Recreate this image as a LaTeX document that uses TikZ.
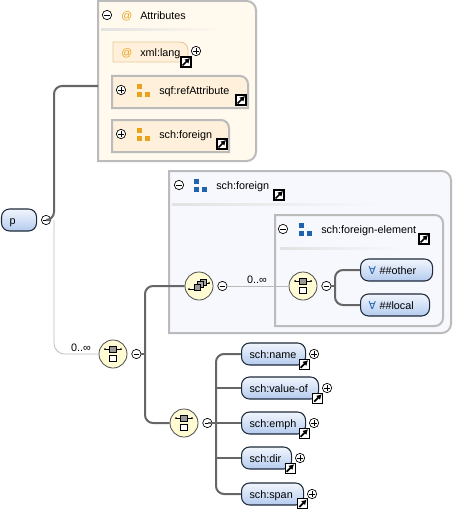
\documentclass[tikz,border=0pt]{standalone}
\usepackage{fontspec}
\setmainfont{Liberation Sans}
\newfontfamily\symfont{DejaVu Sans}
\usetikzlibrary{positioning, arrows.meta}
\definecolor{groupline}{HTML}{BBBBBB}
\definecolor{attrback}{HTML}{FFF9EE}
\definecolor{typeback}{HTML}{F7F8FE}
\definecolor{attrfill}{HTML}{FEF0DA}
\definecolor{attrline}{HTML}{E6C99A}
\definecolor{attrorange}{HTML}{E9A21C}
\definecolor{typeblue}{HTML}{1F63AE}
\definecolor{elemtop}{HTML}{F2F6FD}
\definecolor{elembottom}{HTML}{B4CBEE}
\definecolor{elemline}{HTML}{1E2A3A}
\definecolor{compfill}{HTML}{FFFBD2}
\definecolor{linkdark}{HTML}{666666}
\definecolor{faderule}{HTML}{E2E2E2}
\tikzset{
  smalltext/.style={font=\fontsize{8.1}{10}\selectfont, text height=6pt, text depth=0pt},
  elem/.style={
    rectangle, rounded corners=6pt, draw=elemline, line width=.8pt,
    top color=elemtop, bottom color=elembottom, anchor=west, smalltext,
    text width=#1, align=left, minimum height=16.5pt, inner xsep=6pt,
    inner ysep=0pt
  },
  caption/.style={smalltext, anchor=west, inner sep=0pt},
  toggle/.style={
    circle, draw=black, fill=white, line width=.5pt, minimum size=7pt,
    inner sep=0pt
  },
  minusmark/.style={toggle, path picture={
    \draw[line width=.5pt] ([xshift=-2pt]path picture bounding box.center)
      -- ([xshift=2pt]path picture bounding box.center);}},
  plusmark/.style={toggle, path picture={
    \draw[line width=.5pt] ([xshift=-2pt]path picture bounding box.center)
      -- ([xshift=2pt]path picture bounding box.center);
    \draw[line width=.5pt] ([yshift=-2pt]path picture bounding box.center)
      -- ([yshift=2pt]path picture bounding box.center);}},
  shortcut/.style={
    rectangle, draw=black, fill=white, line width=.8pt, minimum size=7.5pt,
    inner sep=0pt, path picture={
    \draw[black, line width=1.3pt, -{Latex[length=3.8pt,width=4.4pt]}]
      ([shift={(-2.6pt,-2.6pt)}]path picture bounding box.center)
      -- ([shift={(3pt,3pt)}]path picture bounding box.center);}
  },
  groupicon/.style={
    rectangle, minimum size=10.5pt, inner sep=0pt, path picture={
    \begin{scope}[shift={(path picture bounding box.center)}]
      \fill[#1] (-6,-6) rectangle (-1,-1);
      \fill[#1] (-6,1.5) rectangle (-1,6.5);
      \fill[#1] (1.5,1.5) rectangle (6.5,6.5);
    \end{scope}}
  },
  comp/.style={
    circle, draw=black!70, fill=compfill, line width=.6pt,
    minimum size=21pt, inner sep=0pt
  },
  seqcomp/.style={comp, path picture={
    \begin{scope}[shift={(path picture bounding box.center)}]
      \draw[black, line width=.6pt] (-8,-5) -- (8,-5);
      \fill[black] (-8,-5) circle (1) (8,-5) circle (1);
      \filldraw[draw=black, fill=black!40, line width=.5pt] (-3.3,-8) rectangle (3.3,-2);
      \filldraw[draw=black, fill=white, line width=.5pt] (-3.3,1) rectangle (3.3,7);
    \end{scope}}},
  stackcomp/.style={comp, path picture={
    \begin{scope}[shift={(path picture bounding box.center)}]
      \draw[black, line width=.6pt] (-10,3) -- (-5,3) (7,-3) -- (10,-3);
      \fill[black] (-10,3) circle (1) (10,-3) circle (1);
      \filldraw[draw=black, fill=black!35, line width=.5pt] (1,-7) rectangle (7,-1);
      \filldraw[draw=black, fill=black!35, line width=.5pt] (-2,-5) rectangle (4,1);
      \filldraw[draw=black, fill=black!40, line width=.5pt] (-5,-2) rectangle (1,4);
    \end{scope}}},
  grouppath/.style={draw=groupline, line width=1.5pt, fill=#1},
  tabpath/.style={draw=groupline, line width=1.5pt, fill=attrfill},
  link/.style={draw=linkdark, line width=1.5pt, rounded corners=6pt},
  faint/.style={draw=groupline, line width=.6pt, rounded corners=8pt},
  occurs/.style={smalltext, inner sep=0pt}
}
\begin{document}
\begin{tikzpicture}[x=.75pt, y=-.75pt]
  \useasboundingbox (0,0) rectangle (469,510);
  % group frames
  \draw[grouppath=attrback] (98,1) [rounded corners=7pt] -- (256,1) -- (256,161)
    [sharp corners] -- (98,161) -- cycle;
  \draw[grouppath=typeback] (169,171) [rounded corners=7pt] -- (451,171) -- (451,333)
    [sharp corners] -- (169,333) -- cycle;
  \draw[grouppath=typeback] (275,215) [rounded corners=6pt]
    -- (443,215) -- (443,326) [sharp corners] -- (275,326) -- cycle;
  \shade[left color=faderule, right color=attrback] (101,29) rectangle (222,31);
  \shade[left color=faderule, right color=typeback] (172,203) rectangle (380,205);
  \shade[left color=faderule, right color=typeback] (280,247) rectangle (402,249);

  % attributes
  \node[minusmark] (attrminus) at (107,15) {};
  \node[caption, text=attrorange] (attrat) at (121,16) {@};
  \node[caption] (attrtitle) at (140,16) {Attributes};
  \draw[draw=attrline, line width=.7pt, fill=attrfill] (113,42) [rounded corners=6pt]
    -- (188,42) [sharp corners] -- (188,62) -- (113,62) -- cycle;
  \node[caption, text=attrorange] (langat) at (121,52) {@};
  \node[caption] (lang) at (140,52) {xml:lang};
  \node[plusmark] (langplus) at (196,51) {};
  \node[shortcut] (langlink) at (186,62) {};
  \draw[tabpath] (112,76) [rounded corners=6pt] -- (248,76)
    [sharp corners] -- (248,108) -- (112,108) -- cycle;
  \node[plusmark] (refplus) at (121,90) {};
  \node[groupicon=attrorange] (reficon) at (143,90) {};
  \node[caption] (ref) at (159,90) {sqf:refAttribute};
  \node[shortcut] (reflink) at (241,100) {};
  \draw[tabpath] (112,120) [rounded corners=6pt] -- (229,120)
    [sharp corners] -- (229,152) -- (112,152) -- cycle;
  \node[plusmark] (forplus) at (121,134) {};
  \node[groupicon=attrorange] (foricon) at (143,134) {};
  \node[caption] (for) at (159,134) {sch:foreign};
  \node[shortcut] (forlink) at (222,144) {};

  % root and its two branches
  \coordinate (attrs) at (98,86);
  \coordinate (rootfork) at (54,220);
  \coordinate (midfork) at (145,354);
  \coordinate (lowfork) at (216,423);
  \coordinate (otherfork) at (335,286);
  \node[elem=14.25pt] (p) at (1,220) {p};
  \node[minusmark, right=3pt of p] (pminus) {};
  \node[seqcomp] (seqmid) at (113,354) {};
  \draw[faint] (rootfork) |- (seqmid);
  \draw[link] (pminus) -- (rootfork) |- (attrs);
  \node[occurs] (midcount) at (81,347) {0..∞};
  \node[minusmark, right=3pt of seqmid] (midminus) {};

  % foreign group
  \node[stackcomp] (stack) at (199,286) {};
  \node[minusmark, right=3pt of stack] (stackminus) {};
  \node[seqcomp] (seqin) at (303,286) {};
  \node[minusmark, right=3pt of seqin] (inminus) {};
  \draw[draw=groupline, line width=.6pt] (stackminus) -- (seqin);
  \node[occurs] (incount) at (257,279) {0..∞};
  \node[seqcomp] (seqlow) at (184,423) {};
  \node[minusmark, right=3pt of seqlow] (lowminus) {};
  \draw[link] (midminus) -- (midfork);
  \draw[link] (midfork) |- (stack);
  \draw[link] (midfork) |- (seqlow);

  \node[minusmark] (typeminus) at (179,185) {};
  \node[groupicon=typeblue] (typeicon) at (200,185) {};
  \node[caption] (typetitle) at (216,185) {sch:foreign};
  \node[shortcut] (typelink) at (279,195) {};
  \node[minusmark] (elemminus) at (283,229) {};
  \node[groupicon=typeblue] (elemicon) at (305,229) {};
  \node[caption] (elemtitle) at (321,229) {sch:foreign-element};
  \node[shortcut] (elemlink) at (424,239) {};

  % wildcards
  \node[elem=42pt] (other) at (360,270) {{\symfont\textcolor{typeblue}{∀}} \#\#other};
  \node[elem=39.75pt] (local) at (360,305) {{\symfont\textcolor{typeblue}{∀}} \#\#local};
  \draw[link] (inminus) -- (otherfork);
  \draw[link] (otherfork) |- (other);
  \draw[link] (otherfork) |- (local);

  % children
  \node[elem=36pt] (name) at (241,354) {sch:name};
  \node[elem=45.75pt] (valueof) at (241,388) {sch:value-of};
  \node[elem=36pt] (emph) at (241,423) {sch:emph};
  \node[elem=25.5pt] (dir) at (241,458) {sch:dir};
  \node[elem=34.5pt] (span) at (241,494) {sch:span};
  \draw[link] (lowminus) -- (lowfork) -- (emph);
  \draw[link] (lowfork) |- (name);
  \draw[link] (lowfork) |- (span);
  \draw[link] (lowfork |- valueof) -- (valueof);
  \draw[link] (lowfork |- dir) -- (dir);
  \node[plusmark, right=2.25pt of name] (nameplus) {};
  \node[plusmark, right=2.25pt of valueof] (valueofplus) {};
  \node[plusmark, right=2.25pt of emph] (emphplus) {};
  \node[plusmark, right=2.25pt of dir] (dirplus) {};
  \node[plusmark, right=2.25pt of span] (spanplus) {};
  \node[shortcut] (namelink) at ([shift={(-1.5pt,1pt)}]name.south east) {};
  \node[shortcut] (valueoflink) at ([shift={(-1pt,1pt)}]valueof.south east) {};
  \node[shortcut] (emphlink) at ([shift={(-1.5pt,1pt)}]emph.south east) {};
  \node[shortcut] (dirlink) at ([shift={(-1.5pt,1pt)}]dir.south east) {};
  \node[shortcut] (spanlink) at ([shift={(-1pt,1.5pt)}]span.south east) {};
\end{tikzpicture}
\end{document}
